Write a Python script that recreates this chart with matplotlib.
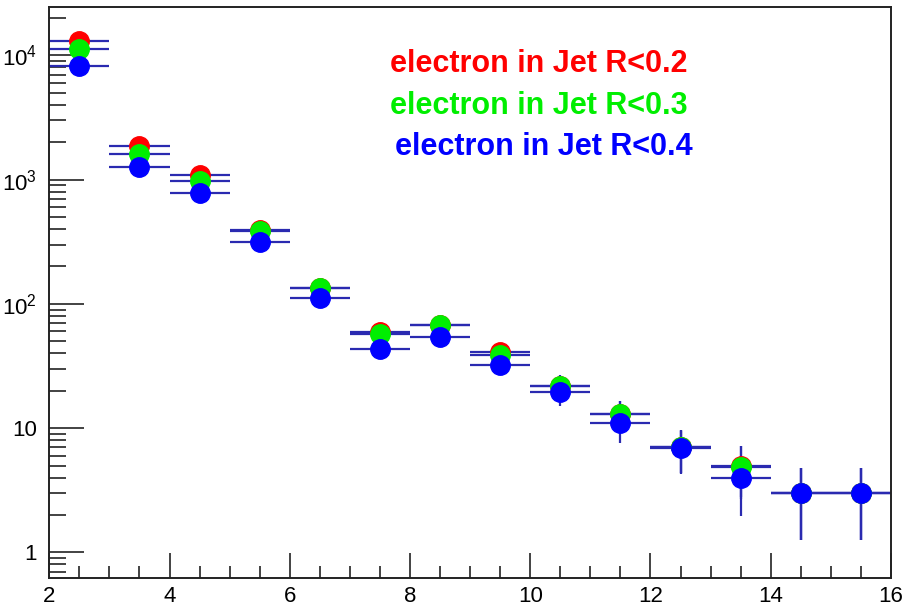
import numpy as np
import matplotlib
matplotlib.use("Agg")
import matplotlib.pyplot as plt
from matplotlib.ticker import FixedLocator, FuncFormatter, LogLocator, MultipleLocator, NullFormatter

plt.rcParams['font.family'] = ['Liberation Sans', 'DejaVu Sans']

# bin centres (pT bins of width 1)
x = [2.5, 3.5, 4.5, 5.5, 6.5, 7.5, 8.5, 9.5, 10.5, 11.5, 12.5, 13.5, 14.5, 15.5]
xerr = 0.5

# counts
r02 = [13000, 1850, 1095, 395, 135, 59, 68, 41, 22, 13, 7, 5, 3, 3]
r03 = [11200, 1610, 970, 385, 133, 57, 67, 38.5, 21.8, 12.9, 7, 4.9, 3, 3]
r04 = [8200, 1260, 780, 314, 112, 43, 54, 32.4, 19.6, 10.9, 6.9, 3.95, 3, 3]

labels = ["electron in Jet R<0.2", "electron in Jet R<0.3", "electron in Jet R<0.4"]
colors = ["#ff0000", "#00ee00", "#0000ff"]
errcol = "#2a2ab0"

fig = plt.figure(figsize=(9.06, 6.08), dpi=100)
ax = fig.add_axes([0.0544, 0.0498, 0.929, 0.938])

for vals, c in zip([r02, r03, r04], colors):
    vals = np.array(vals, dtype=float)
    ax.errorbar(x, vals, xerr=xerr, yerr=np.sqrt(vals), fmt='o', ms=14,
                mfc=c, mec=c, ecolor=errcol, elinewidth=1.6, capsize=0)

ax.set_yscale('log')
ax.set_xlim(2, 16)
ax.set_ylim(0.625, 24300)

ax.xaxis.set_major_locator(MultipleLocator(2))
ax.xaxis.set_minor_locator(MultipleLocator(0.5))
ax.yaxis.set_major_locator(FixedLocator([1, 10, 100, 1000, 10000]))
ax.yaxis.set_minor_locator(LogLocator(base=10, subs=np.arange(2, 10)))
ax.yaxis.set_minor_formatter(NullFormatter())

def yfmt(v, pos):
    e = int(round(np.log10(v)))
    if e == 0:
        return "1"
    if e == 1:
        return "10"
    return r"$\mathregular{10^{%d}}$" % e

ax.yaxis.set_major_formatter(FuncFormatter(yfmt))

ax.tick_params(axis='both', which='both', direction='in', top=False, right=False,
               labelsize=16, color='#222222', width=1.2)
ax.tick_params(axis='x', which='major', length=18, pad=6)
ax.tick_params(axis='x', which='minor', length=9)
ax.tick_params(axis='y', which='major', length=25, pad=9)
ax.tick_params(axis='y', which='minor', length=12)
for s in ax.spines.values():
    s.set_linewidth(1.4)
    s.set_color('#222222')

ypos = [72, 114, 155]
xpos = [390, 390, 395]
for lab, c, yy, xx in zip(labels, colors, ypos, xpos):
    fig.text(xx / 906, 1 - yy / 608, lab, color=c, fontsize=22,
             fontweight='bold', ha='left', va='baseline')

fig.savefig("out.png", dpi=100)
